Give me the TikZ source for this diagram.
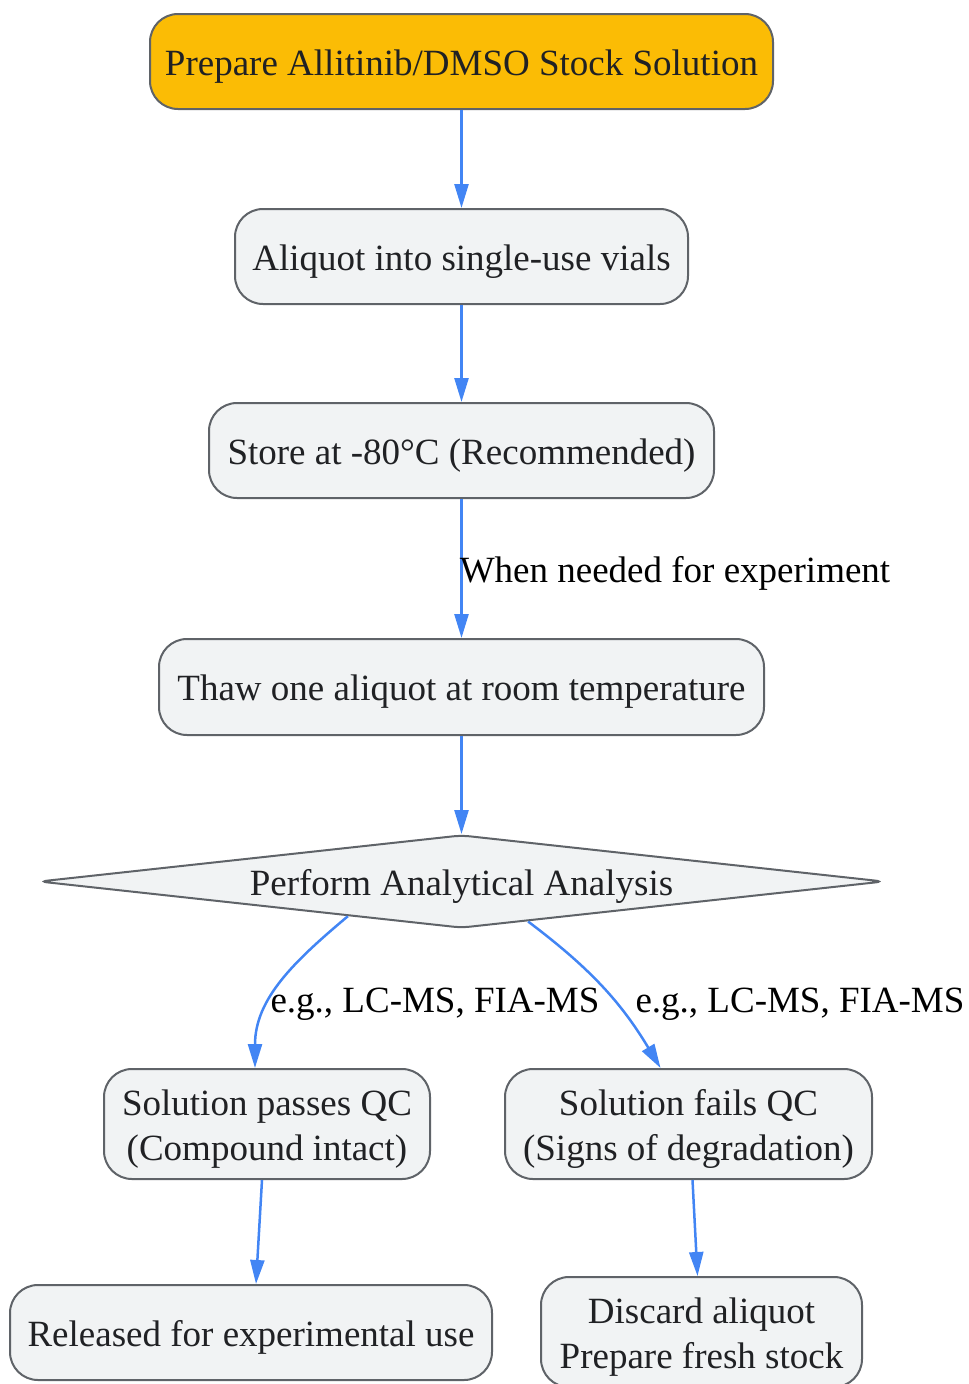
\documentclass[tikz,border=0pt]{standalone}
\usepackage{fontspec}
\setmainfont{Liberation Serif}
\usetikzlibrary{shapes.geometric,arrows.meta}
\definecolor{stockfill}{HTML}{FBBC05}
\definecolor{stepfill}{HTML}{F1F3F4}
\definecolor{stepline}{HTML}{5F6368}
\definecolor{flowline}{HTML}{4285F4}
\definecolor{steptext}{HTML}{202124}

\begin{document}
\begin{tikzpicture}[x=1pt,y=1pt,
  stepbox/.style={draw=stepline, line width=2pt, fill=stepfill, rounded corners=28pt,
    text=steptext, font=\fontsize{37}{45}\selectfont, align=center, inner sep=0pt,
    text height=35pt, text depth=8pt},
  twoline/.style={text height=80pt},
  checkbox/.style={diamond, aspect=9, draw=stepline, line width=2pt, fill=stepfill, rounded corners=8pt,
    text=steptext, font=\fontsize{37}{45}\selectfont, inner sep=0pt, text height=35pt, text depth=8pt},
  flow/.style={draw=flowline, line width=2.5pt, -{Triangle[length=24pt,width=14pt]}},
  flowlabel/.style={font=\fontsize{37}{45}\selectfont, text=black, inner sep=0pt}]
  \useasboundingbox (0,0) rectangle (969,-1384);

  \node[stepbox, fill=stockfill, minimum width=623pt, minimum height=95pt] (stock) at (461.5,-61.5) {Prepare Allitinib/DMSO Stock Solution};
  \node[stepbox, minimum width=453pt, minimum height=95pt] (aliquot) at (461.5,-256.5) {Aliquot into single-use vials};
  \node[stepbox, minimum width=505pt, minimum height=95pt] (store) at (461.5,-450.5) {Store at -80°C (Recommended)};
  \node[stepbox, minimum width=605pt, minimum height=96pt] (thaw) at (461.5,-687) {Thaw one aliquot at room temperature};
  \node[checkbox, minimum width=845pt, minimum height=93pt] (ana) at (461.5,-881.5) {Perform Analytical Analysis};
  \node[stepbox, twoline, minimum width=326pt, minimum height=110pt] (pass) at (267,-1124) {Solution passes QC\\(Compound intact)};
  \node[stepbox, twoline, minimum width=367pt, minimum height=110pt] (fail) at (688.5,-1124) {Solution fails QC\\(Signs of degradation)};
  \node[stepbox, minimum width=482pt, minimum height=95pt] (released) at (251,-1332.5) {Released for experimental use};
  \node[stepbox, twoline, minimum width=321pt, minimum height=110pt] (discard) at (701.5,-1332) {Discard aliquot\\Prepare fresh stock};

  \node[flowlabel] (lblpass) at (435,-1004) {e.g., LC-MS, FIA-MS};
  \node[flowlabel] (lblfail) at (800,-1004) {e.g., LC-MS, FIA-MS};

  \draw[flow] (stock) -- (aliquot);
  \draw[flow] (aliquot) -- (store);
  \draw[flow] (store) -- node[flowlabel, anchor=west, xshift=-3pt, yshift=-5pt] {When needed for experiment} (thaw);
  \draw[flow] (thaw) -- (ana);
  \draw[flow] (ana.197) to[out=-140,in=90] ([xshift=-12pt]pass.north);
  \draw[flow] (ana.-31) to[out=-37,in=121] ([xshift=-28pt]fail.north);
  \draw[flow] ([xshift=-5pt]pass.south) -- ([xshift=5pt]released.north);
  \draw[flow] ([xshift=4pt]fail.south) -- ([xshift=-4pt]discard.north);
\end{tikzpicture}
\end{document}
